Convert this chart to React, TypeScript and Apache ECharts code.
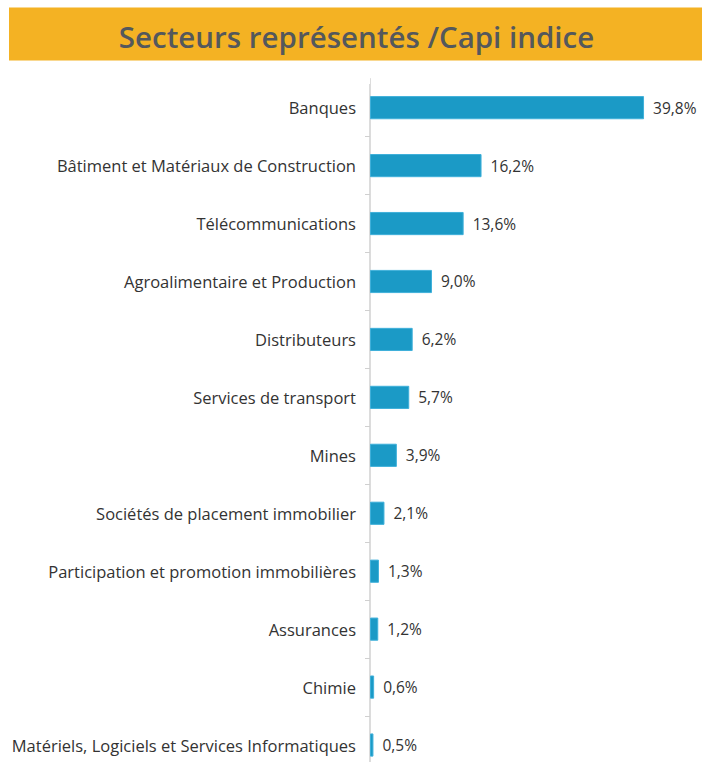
import React, { useEffect, useRef } from "react";
import * as echarts from "echarts";

const categories = [
  "Banques",
  "Bâtiment et Matériaux de Construction",
  "Télécommunications",
  "Agroalimentaire et Production",
  "Distributeurs",
  "Services de transport",
  "Mines",
  "Sociétés de placement immobilier",
  "Participation et promotion immobilières",
  "Assurances",
  "Chimie",
  "Matériels, Logiciels et Services Informatiques",
];
const values = [39.8, 16.2, 13.6, 9.0, 6.2, 5.7, 3.9, 2.1, 1.3, 1.2, 0.6, 0.5];
const titleText = "Secteurs représentés /Capi indice";

export default function App() {
  const ref = useRef<HTMLDivElement>(null);
  useEffect(() => {
    document.body.style.margin = "0";
    document.body.style.overflow = "hidden";
    document.documentElement.style.overflow = "hidden";
    const chart = echarts.init(ref.current!, null, { renderer: "svg" });
    chart.setOption({
      animation: false,
      backgroundColor: "#ffffff",
      graphic: [
        {
          type: "rect",
          shape: { x: 9, y: 7.5, width: 693, height: 53 },
          style: { fill: "#F4B223" },
        },
        {
          type: "rect",
          z: 100,
          shape: { x: 362, y: 76, width: 8, height: 8 },
          style: { fill: "#ffffff" },
        },
        {
          type: "text",
          x: 356.5,
          y: 36.5,
          style: {
            text: titleText,
            fill: "#54585C",
            font: "600 29.5px 'Open Sans', sans-serif",
            textAlign: "center",
            textVerticalAlign: "middle",
          },
        },
      ],
      grid: { left: 370, right: 1.5, top: 78.7, bottom: 0, containLabel: false },
      xAxis: {
        type: "value",
        min: 0,
        max: 48,
        show: false,
        splitLine: { show: false },
      },
      yAxis: {
        type: "category",
        inverse: true,
        data: categories,
        axisLine: { show: true, lineStyle: { color: "#d0d0d0", width: 1.5 } },
        axisTick: { show: true, length: 5, lineStyle: { color: "#d0d0d0" } },
        axisLabel: {
          margin: 14,
          color: "#333333",
          fontSize: 16.5,
          fontFamily: "'Open Sans', sans-serif",
        },
      },
      series: [
        {
          type: "bar",
          data: values,
          barWidth: "40%",
          itemStyle: { color: "#1B9AC6", borderColor: "#3FB0DA", borderWidth: 1 },
          label: {
            show: true,
            position: "right",
            distance: 9,
            color: "#333333",
            fontSize: 15.5,
            fontFamily: "'Open Sans', sans-serif",
            formatter: (p: any) => p.value.toFixed(1).replace(".", ",") + "%",
          },
        },
      ],
    });
    return () => chart.dispose();
  }, []);
  return <div ref={ref} style={{ width: 702, height: 774 }} />;
}
